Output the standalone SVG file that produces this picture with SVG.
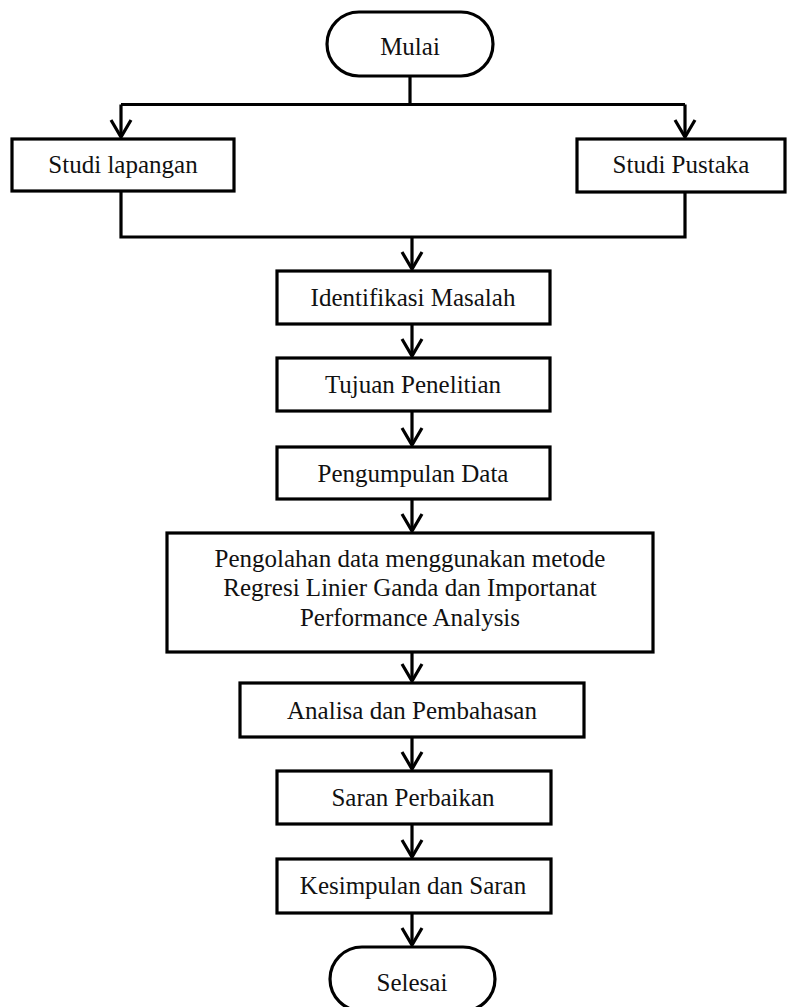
<svg xmlns="http://www.w3.org/2000/svg" width="787" height="1007" viewBox="0 0 787 1007">
<defs>
<marker id="arr" markerUnits="userSpaceOnUse" markerWidth="30" markerHeight="30" viewBox="-20 -15 25 30" refX="0" refY="0" orient="auto" overflow="visible">
<path d="M-17,-10 L0,0 L-17,10" fill="none" stroke="#000" stroke-width="3.2" stroke-linejoin="miter"/>
</marker>
<style>
.box{fill:#fff;stroke:#000;stroke-width:3.2}
.lbl{font-family:"Liberation Serif","Times New Roman",serif;font-size:25px;fill:#111;text-anchor:middle}
.c{fill:none;stroke:#000;stroke-width:3.2}
.a{marker-end:url(#arr)}
</style>
</defs>
<rect width="787" height="1007" fill="#fff"/>
<g id="connectors">
<path class="c" d="M410,76 V104.5"/>
<path class="c" d="M121,104.5 H685"/>
<path class="c a" d="M121,104.5 V137"/>
<path class="c a" d="M685,104.5 V137"/>
<path class="c" d="M121,191 V237 H685 V192"/>
<path class="c a" d="M412,237 V269"/>
<path class="c a" d="M412,324 V356"/>
<path class="c a" d="M412,411 V445"/>
<path class="c a" d="M412,499 V531"/>
<path class="c a" d="M412,652 V681"/>
<path class="c a" d="M412,737 V769"/>
<path class="c a" d="M412,824 V857"/>
<path class="c a" d="M412,913 V945"/>
</g>
<g id="mulai">
<rect class="box" x="327" y="12" width="166" height="64" rx="32" ry="32"/>
<text class="lbl" x="410" y="55">Mulai</text>
</g>
<g id="studi-lapangan">
<rect class="box" x="12" y="139" width="222" height="52"/>
<text class="lbl" x="123" y="173">Studi lapangan</text>
</g>
<g id="studi-pustaka">
<rect class="box" x="577" y="139" width="208" height="53"/>
<text class="lbl" x="681" y="173">Studi Pustaka</text>
</g>
<g id="identifikasi">
<rect class="box" x="277" y="271" width="273" height="53"/>
<text class="lbl" x="413" y="306">Identifikasi Masalah</text>
</g>
<g id="tujuan">
<rect class="box" x="277" y="358" width="273" height="53"/>
<text class="lbl" x="413" y="393">Tujuan Penelitian</text>
</g>
<g id="pengumpulan">
<rect class="box" x="277" y="447" width="273" height="52"/>
<text class="lbl" x="413" y="482">Pengumpulan Data</text>
</g>
<g id="pengolahan">
<rect class="box" x="167" y="533" width="486" height="119"/>
<text class="lbl" x="410" y="567">Pengolahan data menggunakan metode</text>
<text class="lbl" x="410" y="596">Regresi Linier Ganda dan Importanat</text>
<text class="lbl" x="410" y="626">Performance Analysis</text>
</g>
<g id="analisa">
<rect class="box" x="240" y="683" width="344" height="54"/>
<text class="lbl" x="412" y="719">Analisa dan Pembahasan</text>
</g>
<g id="saran-perbaikan">
<rect class="box" x="277" y="771" width="274" height="53"/>
<text class="lbl" x="413" y="806">Saran Perbaikan</text>
</g>
<g id="kesimpulan">
<rect class="box" x="277" y="859" width="274" height="54"/>
<text class="lbl" x="413" y="894">Kesimpulan dan Saran</text>
</g>
<g id="selesai">
<rect class="box" x="330" y="947" width="165" height="64" rx="32" ry="32"/>
<text class="lbl" x="412" y="991">Selesai</text>
</g>
</svg>
